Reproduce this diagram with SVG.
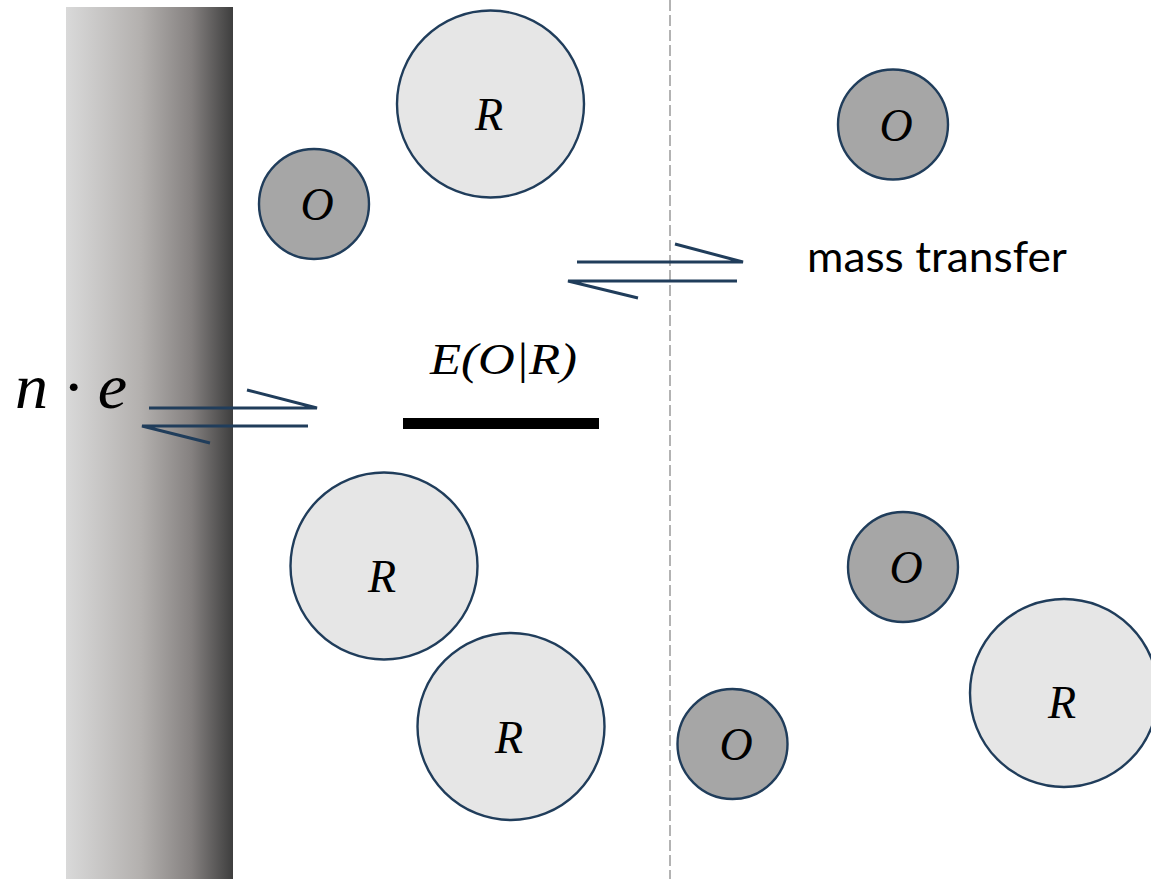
<svg xmlns="http://www.w3.org/2000/svg" width="1151" height="879" viewBox="0 0 1151 879">
<defs>
<linearGradient id="elec" x1="0" y1="0" x2="1" y2="0">
<stop offset="0" stop-color="#d9d9d9"/>
<stop offset="0.45" stop-color="#b3b0ae"/>
<stop offset="0.75" stop-color="#858180"/>
<stop offset="1" stop-color="#3e3e3e"/>
</linearGradient>
<style>
.ox{fill:#a6a6a6;stroke:#203d5b;stroke-width:2.4}
.rd{fill:#e6e6e6;stroke:#203d5b;stroke-width:2.4}
.m{font-family:"Liberation Serif","DejaVu Serif",serif;font-style:italic;fill:#000}
.lbl{font-size:46px;text-anchor:middle}
.arr{stroke:#203d5b;stroke-width:3;fill:none;stroke-linecap:butt}
</style>
</defs>
<rect width="1151" height="879" fill="#fff"/>
<g id="electrode"><rect x="66" y="7" width="167" height="872" fill="url(#elec)"/></g>
<g id="boundary"><line x1="670" y1="0" x2="670" y2="879" stroke="#9a9a9a" stroke-width="1.5" stroke-dasharray="11 4"/></g>
<g id="connectors">
<path class="arr" d="M577 262 H743 L675 244"/>
<path class="arr" d="M737 281 H568 L638 298"/>
<path class="arr" d="M149 408 H317 L247 390"/>
<path class="arr" d="M308 426 H142 L210 443"/>
</g>
<g id="R1"><circle class="rd" cx="490.5" cy="104" r="93.5"/><text class="m lbl" x="489" y="130">R</text></g>
<g id="O1"><circle class="ox" cx="314" cy="204" r="55"/><text class="m lbl" x="317" y="220">O</text></g>
<g id="O2"><circle class="ox" cx="893" cy="124.5" r="55"/><text class="m lbl" x="896" y="141">O</text></g>
<g id="R2"><circle class="rd" cx="384" cy="566" r="93.5"/><text class="m lbl" x="382" y="592">R</text></g>
<g id="R3"><circle class="rd" cx="511" cy="726.5" r="93.5"/><text class="m lbl" x="509" y="753">R</text></g>
<g id="O3"><circle class="ox" cx="903" cy="567" r="55"/><text class="m lbl" x="906" y="583">O</text></g>
<g id="O4"><circle class="ox" cx="732.5" cy="744" r="55"/><text class="m lbl" x="736" y="760">O</text></g>
<g id="R4"><circle class="rd" cx="1064" cy="693" r="94"/><text class="m lbl" x="1062" y="718">R</text></g>
<g id="potential">
<rect x="403" y="418" width="196" height="11" fill="#000"/>
<text class="m" x="430" y="374" font-size="45" textLength="147" lengthAdjust="spacingAndGlyphs">E(O|R)</text>
</g>
<g id="ne"><text class="m" x="15" y="408" font-size="64" textLength="112" lengthAdjust="spacingAndGlyphs">n · e</text></g>
<g id="mt"><text x="807" y="272" font-family="Lato,'Open Sans',sans-serif" font-size="42" fill="#000" textLength="260" lengthAdjust="spacingAndGlyphs">mass transfer</text></g>
</svg>
